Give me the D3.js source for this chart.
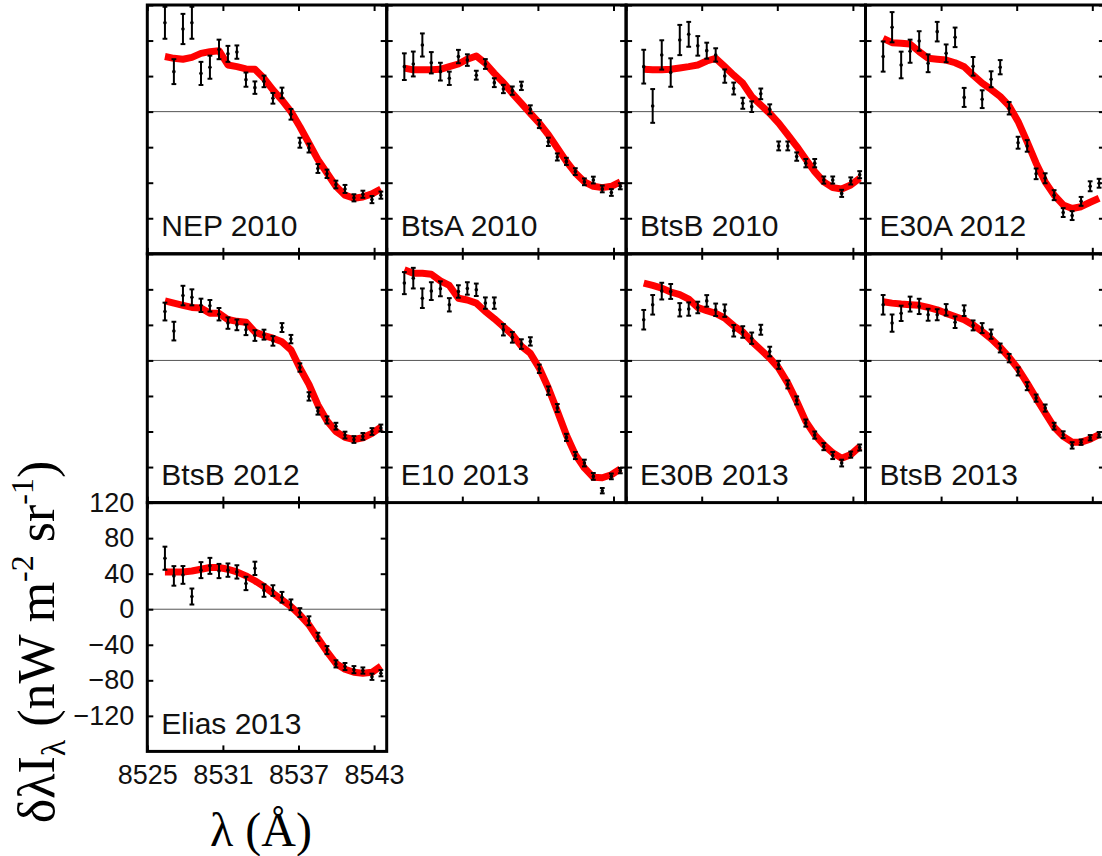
<!DOCTYPE html>
<html>
<head>
<meta charset="utf-8">
<script src="https://cdn.jsdelivr.net/npm/d3@7"></script>
<style>
  body { margin: 0; background: #fff; }
  svg { display: block; }
</style>
</head>
<body>
<svg id="chart"></svg>
<script>
const width = 1102;
const height = 856;

// --- Data ---
const wavelengths = [8526.40, 8527.11, 8527.83, 8528.54, 8529.26, 8529.97, 8530.69, 8531.40, 8532.11,
  8532.83, 8533.54, 8534.26, 8534.97, 8535.69, 8536.40, 8537.11, 8537.83, 8538.54, 8539.26,
  8539.97, 8540.69, 8541.40, 8542.11, 8542.83, 8543.54];

const panelLabels = ["NEP 2010", "BtsA 2010", "BtsB 2010", "E30A 2012",
  "BtsB 2012", "E10 2013", "E30B 2013", "BtsB 2013", "Elias 2013"];

const xTicks = [8525, 8531, 8537, 8543];
const yTicks = [-120, -80, -40, 0, 40, 80, 120];

const nep2010Obs = [100, 45, 93, 100, 43, 50, 70, 65, 67, 36, 27, 34, 15, 21, -3, -35, -41, -64, -70, -82, -87, -97, -93, -99, -94];
const nep2010Err = [18, 14, 17, 18, 13, 13, 11, 9, 7.5, 8, 7, 6.5, 6, 6, 6, 5.6, 5, 5, 4.7, 4.3, 4.5, 4, 4, 4, 4];
const nep2010Model = [62, 60, 59, 61, 65.6, 67.5, 68.6, 52.5, 50.6, 48, 47.6, 37.5, 24.4, 13, 0, -17, -35.6, -54, -69, -84, -94, -97.5, -96, -92.6, -87];

const btsA2010Obs = [50.6, 53.6, 75, 55, 45, 37.5, 62, 58, 41, 53.6, 32.6, 25.5, 23.6, 29, 2.6, -14, -34, -51, -56, -67.5, -79, -77, -87, -91, -84];
const btsA2010Err = [15, 14, 13, 12, 10, 7.5, 7.5, 6.5, 5, 5.5, 5, 4.7, 4.7, 4.7, 4.5, 4.5, 4.7, 4, 4, 3.8, 3.8, 3.8, 3.8, 3.8, 3.4];
const btsA2010Model = [49, 47, 47, 47, 47.6, 50.6, 53.6, 59, 62.6, 54.4, 43, 32.6, 20.6, 9.4, -2, -13, -26, -41, -56, -69, -79, -84, -85.5, -84, -79];

const btsB2010Obs = [50.6, 6.4, 63.8, 44, 80.6, 87, 74, 68.6, 63.8, 40, 26, 9.4, 5.6, 20, 2.6, -38.6, -38.6, -50.6, -58, -58, -77, -77, -92, -78, -71];
const btsB2010Err = [19, 19, 16.5, 16, 17, 14, 11, 9, 7.5, 7.5, 6.7, 6.2, 6, 6, 5.6, 5, 5, 4.7, 4.7, 4.7, 4, 4, 4, 4, 4];
const btsB2010Model = [47.6, 47, 47, 47.6, 49, 50.6, 52.5, 57, 60, 50.6, 41, 32, 17, 7.5, -2, -13, -26, -39, -53.6, -67.5, -79, -85.5, -87, -82.5, -75];

const e30A2012Obs = [62, 95, 52.5, 68, 79.5, 54.4, 90, 65.6, 83.6, 16, 51, 14, 36.4, 50, 3.8, -35, -38.6, -70, -75, -94, -113.6, -117, -101, -84, -80.6];
const e30A2012Err = [17, 17, 15, 13, 11, 10, 11, 10, 11, 10.7, 10.5, 10, 9, 8, 7, 6.7, 6.5, 6, 5.6, 5.6, 5, 5, 5, 5.6, 5];
const e30A2012Model = [82.5, 77.6, 77, 76, 67.5, 60, 59, 58, 55, 50.6, 41, 32, 25, 17, 6.4, -11, -34, -58, -79, -94, -105, -109, -107, -102, -97.5];

const btsB2012Obs = [55, 33, 73, 71, 62, 61.5, 52, 42, 40, 34.5, 28, 29, 22, 37, 24, -8, -40.5, -57, -67, -74, -84, -89, -85.5, -80, -76];
const btsB2012Err = [10, 10.5, 11, 9, 7.5, 6.5, 7, 6.4, 6, 6, 6, 5.6, 5.4, 5, 4.7, 4.7, 4.7, 4, 4, 3.8, 3.8, 3.8, 3.8, 3.8, 3.8];
const btsB2012Model = [67, 64.5, 62, 59.6, 59, 53, 53, 46, 44, 43, 32, 28, 25, 21, 12, -8.6, -27, -50, -68, -80, -86.6, -89, -87, -82, -75];

const e10_2013Obs = [87, 92.6, 70, 78, 80.6, 62.6, 77.6, 81, 79.5, 64.5, 64.5, 34.5, 26, 18.4, 21.4, -9.4, -34, -53.6, -86.6, -107, -115.5, -130.5, -146.6, -130.5, -124];
const e10_2013Err = [12.4, 11.6, 11, 10, 8.4, 7.5, 7, 7, 7, 6.4, 6.4, 6.4, 6, 5.4, 4.7, 4.7, 4.7, 4.5, 4, 4, 3.8, 3.8, 3, 3.2, 3];
const e10_2013Model = [102, 98, 98, 97, 89.6, 84.4, 70, 68, 64.5, 55, 47, 38, 29, 16, 8, -8.6, -31, -57, -84, -106, -121, -131.6, -132, -128.6, -122];

const e30B2013Obs = [45.8, 62.6, 78, 77.6, 57, 57.8, 59.6, 67, 57, 56, 33.4, 32, 25, 34.5, 10, -5, -27, -45, -70.5, -84, -97, -107, -115.5, -106, -98];
const e30B2013Err = [11, 11, 9.4, 8.4, 7.5, 7.5, 6.5, 6.5, 7, 7, 6.5, 6.5, 6.4, 5.6, 5.4, 4.5, 4.5, 4.5, 4, 4, 4, 4, 3.8, 3.4, 3.4];
const e30B2013Model = [87, 84.4, 81.4, 77, 74, 69, 59.6, 56, 53, 47.6, 39, 32, 21.4, 12, 2.6, -8.6, -25.5, -46, -68.6, -83.6, -95, -104, -110, -106, -97];

const btsB2013Obs = [62.6, 42, 53, 63.4, 60.8, 51.4, 51.4, 57, 43, 56, 39.4, 36.4, 29.6, 14, 2.6, -12.4, -29, -42.4, -53.6, -74, -83.6, -95.6, -92, -87, -83.6];
const btsB2013Err = [11, 9.7, 8.6, 8.4, 8.6, 6.7, 6.2, 6.4, 6.5, 6, 5.6, 5.6, 5.2, 5, 4.7, 4.5, 4.5, 4, 4, 3.8, 3.8, 3.6, 3, 3, 3];
const btsB2013Model = [66, 64.5, 63.4, 62.6, 62, 59.6, 57, 53, 49.5, 45.8, 40, 32.6, 24.4, 14.6, 3.4, -9.4, -25.5, -42.4, -59, -75, -85.5, -92, -92, -88.5, -83.6];

const elias2013Obs = [57.4, 37.5, 38.6, 14.3, 44, 48.8, 43, 44, 42, 29, 46, 21, 21, 13.5, 5, -3.8, -13, -31, -46, -61.5, -64.5, -68, -69, -76, -72];
const elias2013Err = [13, 11, 10, 9, 9, 9, 8, 7.5, 7.5, 7.5, 7.5, 7, 6, 6, 6, 5, 5, 4.5, 4.5, 4, 4, 4, 3.5, 3.5, 3.5];
const elias2013Model = [42, 42, 42, 43, 45, 47, 47, 45, 42, 37.5, 32, 25.5, 18, 10.5, 3, -6.4, -17.6, -32.6, -47.6, -61, -67.5, -71, -72, -71, -64];

const observed = [nep2010Obs, btsA2010Obs, btsB2010Obs, e30A2012Obs, btsB2012Obs, e10_2013Obs, e30B2013Obs, btsB2013Obs, elias2013Obs];
const errors = [nep2010Err, btsA2010Err, btsB2010Err, e30A2012Err, btsB2012Err, e10_2013Err, e30B2013Err, btsB2013Err, elias2013Err];
const models = [nep2010Model, btsA2010Model, btsB2010Model, e30A2012Model, btsB2012Model, e10_2013Model, e30B2013Model, btsB2013Model, elias2013Model];

// --- Layout ---
const svg = d3.select("#chart")
  .attr("width", width)
  .attr("height", height)
  .attr("viewBox", [0, 0, width, height]);

const panelW = 239.4;
const panelH = 248.8;
const left0 = 147.3;
const top0 = 5;
const sans = "'Liberation Sans', Arial, Helvetica, sans-serif";
const serif = "'Liberation Serif', 'Times New Roman', serif";

const x = d3.scaleLinear().domain([8525, 8544]).range([0, panelW]);
const y = d3.scaleLinear().domain([-160, 120]).range([panelH, 0]);

const line = d3.line()
  .x(d => x(d.w))
  .y(d => y(d.m));

panelLabels.forEach((label, i) => {
  const col = i % 4;
  const row = Math.floor(i / 4);
  const isLast = i === panelLabels.length - 1;
  const g = svg.append("g")
    .attr("transform", `translate(${left0 + col * panelW},${top0 + row * panelH})`);

  const rows = wavelengths.map((w, k) => ({
    w, v: observed[i][k], e: errors[i][k], m: models[i][k]
  }));

  // zero line
  g.append("line")
    .attr("x1", 0).attr("x2", panelW)
    .attr("y1", y(0)).attr("y2", y(0))
    .attr("stroke", "#555")
    .attr("stroke-width", 1);

  // model curve
  g.append("path")
    .datum(rows)
    .attr("fill", "none")
    .attr("stroke", "#ff0000")
    .attr("stroke-width", 7)
    .attr("stroke-linejoin", "round")
    .attr("d", line);

  // error bars
  const bars = g.selectAll(".ebar")
    .data(rows)
    .join("g")
    .attr("class", "ebar")
    .attr("stroke", "#000")
    .attr("stroke-width", 2);

  bars.append("line")
    .attr("x1", d => x(d.w)).attr("x2", d => x(d.w))
    .attr("y1", d => y(d.v + d.e)).attr("y2", d => y(d.v - d.e));
  bars.append("line")
    .attr("x1", d => x(d.w) - 2.4).attr("x2", d => x(d.w) + 2.4)
    .attr("y1", d => y(d.v + d.e)).attr("y2", d => y(d.v + d.e));
  bars.append("line")
    .attr("x1", d => x(d.w) - 2.4).attr("x2", d => x(d.w) + 2.4)
    .attr("y1", d => y(d.v - d.e)).attr("y2", d => y(d.v - d.e));
  bars.append("circle")
    .attr("cx", d => x(d.w))
    .attr("cy", d => y(d.v))
    .attr("r", 1.8)
    .attr("fill", "#000")
    .attr("stroke", "none");

  // inward ticks on all sides, labels only on the last panel
  const axes = [
    { axis: d3.axisLeft(y).tickValues(yTicks), t: [0, 0], fmt: isLast ? null : "" },
    { axis: d3.axisRight(y).tickValues(yTicks), t: [panelW, 0], fmt: "" },
    { axis: d3.axisTop(x).tickValues(xTicks), t: [0, 0], fmt: "" },
    { axis: d3.axisBottom(x).tickValues(xTicks), t: [0, panelH], fmt: isLast ? d3.format("d") : "" }
  ];
  axes.forEach(a => {
    a.axis.tickSize(-6).tickPadding(13).tickFormat(a.fmt);
    const ga = g.append("g")
      .attr("transform", `translate(${a.t[0]},${a.t[1]})`)
      .call(a.axis);
    ga.select(".domain").remove();
    ga.selectAll(".tick line").attr("stroke", "#000").attr("stroke-width", 2);
    ga.selectAll(".tick text")
      .attr("fill", "#111")
      .style("font-family", sans)
      .style("font-size", "27px");
  });

  // frame
  g.append("rect")
    .attr("width", panelW)
    .attr("height", panelH)
    .attr("fill", "none")
    .attr("stroke", "#000")
    .attr("stroke-width", 3);

  // panel label
  g.append("text")
    .attr("x", 14)
    .attr("y", 231)
    .attr("fill", "#111")
    .style("font-family", sans)
    .style("font-size", "30px")
    .text(label);
});

// --- Axis titles ---
svg.append("text")
  .attr("x", 261)
  .attr("y", 846)
  .attr("text-anchor", "middle")
  .style("font-family", serif)
  .style("font-size", "48px")
  .text("λ (Å)");

const yTitle = svg.append("text")
  .attr("transform", "translate(54,642) rotate(-90)")
  .attr("text-anchor", "middle")
  .style("font-family", serif)
  .style("font-size", "52px");
yTitle.append("tspan").text("δλI");
yTitle.append("tspan").attr("dy", 11).style("font-size", "34px").text("λ");
yTitle.append("tspan").attr("dy", -11).text(" (nW m");
yTitle.append("tspan").attr("dy", -21).style("font-size", "32px").text("-2");
yTitle.append("tspan").attr("dy", 21).text(" sr");
yTitle.append("tspan").attr("dy", -21).style("font-size", "32px").text("-1");
yTitle.append("tspan").attr("dy", 21).text(")");
</script>
</body>
</html>
